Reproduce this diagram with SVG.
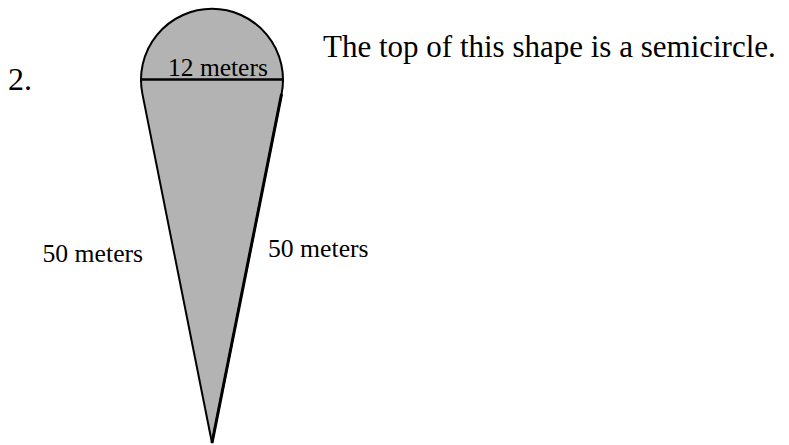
<svg xmlns="http://www.w3.org/2000/svg" width="789" height="445" viewBox="0 0 789 445">
<style>
text{font-family:"Liberation Serif","Times New Roman",serif;fill:#000}
.shape{fill:#b3b3b3;stroke:#000;stroke-width:2;stroke-linejoin:miter}
</style>
<rect width="789" height="445" fill="#fff"/>
<g id="shape">
<path class="shape" d="M 142.4 93.9 A 71 71 0 1 1 281.6 93.9 L 212 443 Z"/>
<line x1="281.6" y1="93.9" x2="212" y2="443" stroke="#000" stroke-width="3"/>
<line x1="141" y1="79.5" x2="283" y2="79.5" stroke="#000" stroke-width="2.5"/>
</g>
<g id="labels">
<text x="8" y="90" font-size="32">2.</text>
<text x="168" y="76" font-size="25.5">12 meters</text>
<text x="323" y="57" font-size="31">The top of this shape is a semicircle.</text>
<text x="42.5" y="262" font-size="25.7">50 meters</text>
<text x="268" y="257" font-size="25.7">50 meters</text>
</g>
</svg>
